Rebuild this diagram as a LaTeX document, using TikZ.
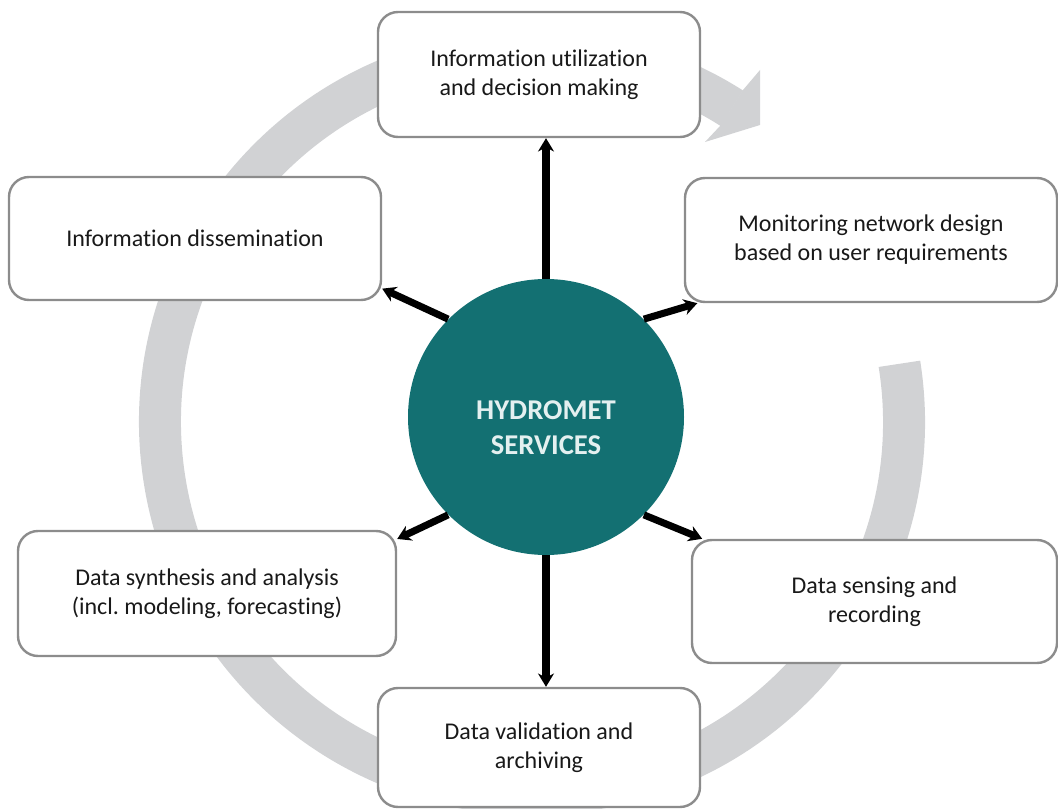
\documentclass[tikz,border=0pt]{standalone}
\usepackage{fontspec}
\setmainfont{Carlito}[Ligatures=NoCommon]
\frenchspacing
\usetikzlibrary{arrows.meta}
\definecolor{hydroteal}{RGB}{19,112,114}
\definecolor{ringgray}{RGB}{209,210,212}
\definecolor{boxgray}{RGB}{140,140,140}
\definecolor{hubtext}{RGB}{228,240,240}

\begin{document}
\begin{tikzpicture}[x=0.75pt,y=-0.75pt,>={Stealth[length=10pt,width=12pt]},
                    semithick]
  \tikzstyle{stage}=[draw=boxgray,line width=1.8pt,fill=white,rounded corners=15pt,
                     align=center,text=black!90,font=\fontsize{18}{21.75}\selectfont]
  \tikzstyle{hubnode}=[circle,fill=hydroteal,minimum size=207pt,inner sep=0pt]
  \tikzstyle{hublabel}=[text=hubtext,align=center,font=\bfseries\fontsize{21.5}{26}\selectfont]
  \tikzstyle{ring}=[ringgray,line width=31.5pt]
  \tikzstyle{link}=[->,line width=5.3pt]

  \useasboundingbox (0,0) rectangle (1058,809);

  % grey cycle behind the boxes
  \draw[ring] (532,422) ++(-9:372) arc (-9:302.5:372);
  \fill[ringgray] (743,90) -- (760,70) -- (760,125) -- (705,142) -- (720,126) -- cycle;

  \node[hubnode]  (hub)     at (546,417)   {};
  \node[hublabel] (hubname) at (546,428)   {HYDROMET\\SERVICES};

  \node[stage,minimum width=241.5pt,minimum height=93.75pt] (util)    at (539,74.5)
       {Information utilization\\and decision making};
  \node[stage,minimum width=279pt,minimum height=93pt]      (monitor) at (871,240)
       {Monitoring network design\\based on user requirements};
  \node[stage,minimum width=279pt,minimum height=92.25pt]   (dissem)  at (195,238.5)
       {Information dissemination};
  \node[stage,minimum width=283.5pt,minimum height=93.75pt] (synth)   at (207,593.5)
       {Data synthesis and analysis\\(incl. modeling, forecasting)};
  \node[stage,minimum width=273.75pt,minimum height=92.25pt] (sensing) at (874.5,601.5)
       {Data sensing and\\recording};
  \node[stage,minimum width=241.5pt,minimum height=89.25pt] (valid)   at (539,747.5)
       {Data validation and\\archiving};

  \path[link] (hub)    edge (hub |- util.south)
                       edge (hub |- valid.north)
              (hub.135) edge (dissem.-15)
              (hub.45)  edge (monitor.200)
              (hub.225) edge (synth.16)
              (hub.-45) edge (sensing.160);
\end{tikzpicture}
\end{document}
